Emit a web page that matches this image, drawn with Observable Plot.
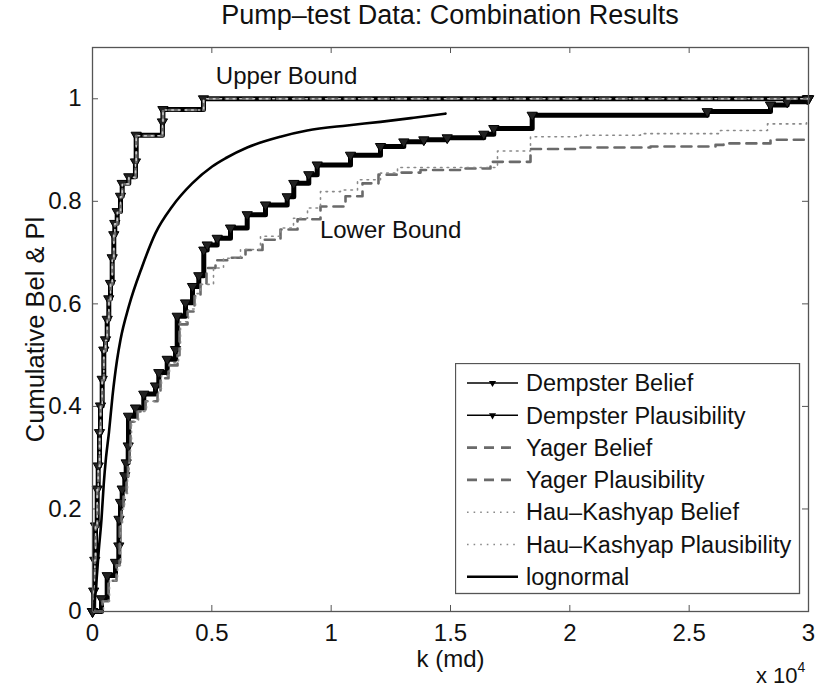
<!DOCTYPE html>
<html>
<head>
<meta charset="utf-8">
<script src="https://cdn.jsdelivr.net/npm/d3@7"></script>
<script src="https://cdn.jsdelivr.net/npm/@observablehq/plot@0.6"></script>
<style>
  body { margin: 0; background: #fff; font-family: "Liberation Sans", Arial, Helvetica, sans-serif; }
  #wrap { position: relative; width: 817px; height: 687px; overflow: hidden; }
  #title { position: absolute; left: 92px; width: 716px; top: 0px; text-align: center; font-size: 27px; color: #111; line-height: 30px; }
  #chart { position: absolute; left: 0; top: 30px; }
  #exp { position: absolute; left: 756px; top: 662px; font-size: 22px; color: #111; }
  #exp sup { font-size: 14px; position: relative; top: -3px; }
  #legend { position: absolute; left: 455px; top: 363px; }
</style>
</head>
<body>
<div id="wrap">
  <div id="title"></div>
  <div id="chart"></div>
  <div id="exp">x 10<sup>4</sup></div>
  <div id="legend"></div>
</div>
<script>
// ---------- data (k in md, cumulative probability) ----------
const titleText = "Pump\u2013test Data: Combination Results";
const xLabel = "k (md)";
const yLabel = "Cumulative Bel & Pl";

const xTicks = [0, 5000, 10000, 15000, 20000, 25000, 30000];
const yTicks = [0, 0.2, 0.4, 0.6, 0.8, 1];

const kDempsterBel = [0,377,616,964,1102,1110,1173,1244,1353,1412,1496,1508,1802,2149,2640,2778,3130,3478,3549,3897,4190,4454,4663,4806,5225,5782,6482,7249,8158,8434,9063,9415,10810,12067,13044,13882,14862,16395,16814,18423,25756,28408,29108,29947,30000];
const pDempsterBel = [0,0.025,0.07,0.096,0.128,0.18,0.213,0.239,0.265,0.29,0.323,0.381,0.397,0.424,0.44,0.466,0.492,0.511,0.576,0.602,0.634,0.655,0.705,0.715,0.728,0.748,0.774,0.793,0.809,0.835,0.852,0.871,0.890,0.907,0.916,0.920,0.924,0.931,0.942,0.968,0.975,0.988,0.994,1.0,1.0];

const kDempsterPl = [0,50,96,126,197,239,293,335,406,473,545,616,683,754,825,892,934,1035,1173,1244,1521,1800,1830,2930,2950,4650,30000];
const pDempsterPl = [0,0.04,0.10,0.167,0.239,0.284,0.349,0.401,0.453,0.51,0.53,0.57,0.61,0.64,0.69,0.735,0.757,0.78,0.81,0.835,0.848,0.877,0.929,0.955,0.979,1.0,1.0];

const kYagerBel = [0,419,670,1006,1131,1140,1215,1299,1425,1487,1550,1592,1886,2221,2724,2849,3184,3562,3645,3981,4274,4525,4777,5154,5782,6411,7123,7877,8590,9553,10601,11313,11983,12905,13743,15545,16676,18352,20447,23380,26104,26439,28408,30000];
const pYagerBel = [0,0.02,0.06,0.09,0.12,0.17,0.2,0.23,0.26,0.29,0.32,0.37,0.39,0.41,0.43,0.455,0.48,0.50,0.56,0.585,0.615,0.64,0.67,0.685,0.69,0.705,0.725,0.745,0.765,0.79,0.81,0.835,0.852,0.856,0.861,0.864,0.877,0.902,0.905,0.907,0.910,0.913,0.92,0.92];

const kYagerPl = [0,60,100,130,200,245,298,340,410,478,550,620,688,760,830,896,940,1040,1178,1250,1526,1805,1835,2935,2955,4660,30000];
const pYagerPl = [0,0.04,0.10,0.165,0.237,0.282,0.347,0.40,0.451,0.508,0.528,0.568,0.607,0.638,0.688,0.733,0.755,0.778,0.808,0.833,0.846,0.875,0.928,0.954,0.978,1.0,1.0];

const kHKBel = [0,461,712,1048,1173,1182,1257,1341,1467,1529,1592,1634,1927,2263,2765,2891,3226,3603,3687,4022,4316,4525,5070,5489,6201,7039,7877,8422,9009,9553,10391,11104,12067,12780,16969,18352,20447,22960,26313,28282,29916,30000];
const pHKBel = [0,0.02,0.06,0.09,0.12,0.17,0.2,0.23,0.26,0.29,0.32,0.37,0.39,0.41,0.435,0.46,0.485,0.505,0.565,0.59,0.62,0.638,0.67,0.689,0.706,0.732,0.748,0.767,0.787,0.819,0.822,0.842,0.855,0.866,0.898,0.926,0.929,0.932,0.938,0.951,0.955,0.955];

const kHKPl = [0,55,98,128,199,242,296,338,408,476,548,618,686,757,828,894,937,1038,1176,1247,1524,1803,1833,2933,2953,4655,30000];
const pHKPl = [0,0.04,0.10,0.166,0.238,0.283,0.348,0.40,0.452,0.509,0.529,0.569,0.608,0.639,0.689,0.734,0.756,0.779,0.809,0.834,0.847,0.876,0.928,0.954,0.978,1.0,1.0];

const kLognormal = [0,63,168,264,377,473,566,691,838,1027,1173,1521,2082,2640,3339,4177,5015,5573,6482,7877,8996,10672,12067,13463,14791];
const pLognormal = [0,0.01,0.06,0.12,0.18,0.25,0.30,0.35,0.42,0.49,0.53,0.595,0.673,0.738,0.79,0.835,0.868,0.884,0.905,0.926,0.938,0.948,0.955,0.963,0.971];

const annotations = [
  {text: "Upper Bound", k: 8130, p: 1.043},
  {text: "Lower Bound", k: 12490, p: 0.743}
];

const legendLabels = ["Dempster Belief", "Dempster Plausibility", "Yager Belief", "Yager Plausibility",
  "Hau\u2013Kashyap Belief", "Hau\u2013Kashyap Plausibility", "lognormal"];

// ---------- build rows ----------
const rows = (ks, ps) => ks.map((k, i) => ({k, p: ps[i]}));
const dBel = rows(kDempsterBel, pDempsterBel);
const dPl = rows(kDempsterPl, pDempsterPl);
const yBel = rows(kYagerBel, pYagerBel);
const yPl = rows(kYagerPl, pYagerPl);
const hBel = rows(kHKBel, pHKBel);
const hPl = rows(kHKPl, pHKPl);
const logn = rows(kLognormal, pLognormal);

const FONT = '"Liberation Sans", Arial, Helvetica, sans-serif';
const axisColor = "#555";
const yagerStyle = {stroke: "#6a6a6a", strokeWidth: 2.6, strokeDasharray: "10,7"};
const hkStyle = {stroke: "#8a8a8a", strokeWidth: 1.6, strokeDasharray: "1.6,5"};

const tickLenY = 6 / 512.7;      // inward tick length in y units
const tickLenX = 6 * 30000 / 716; // inward tick length in x units

document.getElementById("title").textContent = titleText;

const chart = Plot.plot({
  width: 817,
  height: 657,
  marginLeft: 92,
  marginRight: 9,
  marginTop: 17,
  marginBottom: 76,
  style: {fontFamily: FONT, fontSize: "24px", color: "#111", background: "transparent"},
  x: {domain: [0, 30000]},
  y: {domain: [0, 1.1]},
  marks: [
    // tick labels
    Plot.axisX({ticks: xTicks, tickSize: 0, tickPadding: 12, tickFormat: d => d / 10000, label: null, fontSize: 24}),
    Plot.axisY({ticks: yTicks, tickSize: 0, tickPadding: 11, tickFormat: d => d, label: null, fontSize: 24}),
    // inward ticks on all four sides
    Plot.ruleX(xTicks, {x: d => d, y1: 0, y2: tickLenY, stroke: axisColor}),
    Plot.ruleX(xTicks, {x: d => d, y1: 1.1 - tickLenY, y2: 1.1, stroke: axisColor}),
    Plot.ruleY(yTicks, {y: d => d, x1: 0, x2: tickLenX, stroke: axisColor}),
    Plot.ruleY(yTicks, {y: d => d, x1: 30000 - tickLenX, x2: 30000, stroke: axisColor}),
    // series
    Plot.line(dBel, {x: "k", y: "p", curve: "step-after", stroke: "#000", strokeWidth: 5}),
    Plot.line(dPl, {x: "k", y: "p", curve: "step-after", stroke: "#000", strokeWidth: 5}),
    Plot.dot(dBel, {x: "k", y: "p", symbol: "triangle", rotate: 180, r: 3.8, fill: "#222", stroke: "#000", strokeWidth: 1}),
    Plot.dot(dPl, {x: "k", y: "p", symbol: "triangle", rotate: 180, r: 3.8, fill: "#222", stroke: "#000", strokeWidth: 1}),
    Plot.line(yBel, {x: "k", y: "p", curve: "step-after", ...yagerStyle}),
    Plot.line(yPl, {x: "k", y: "p", curve: "step-after", ...yagerStyle}),
    Plot.line(hBel, {x: "k", y: "p", curve: "step-after", ...hkStyle}),
    Plot.line(hPl, {x: "k", y: "p", curve: "step-after", ...hkStyle, stroke: "#c8c8c8"}),
    Plot.line(logn, {x: "k", y: "p", curve: "monotone-x", stroke: "#000", strokeWidth: 2.6}),
    // annotations
    Plot.text(annotations, {x: "k", y: "p", text: "text", fontSize: 24, fill: "#111"}),
    // axis titles
    Plot.text([xLabel], {frameAnchor: "bottom", dy: 55, fontSize: 24, fill: "#111"}),
    Plot.text([yLabel], {frameAnchor: "left", textAnchor: "middle", lineAnchor: "middle", dx: -57, rotate: -90, fontSize: 25.5, fill: "#111"}),
    // box
    Plot.frame({stroke: axisColor, strokeWidth: 1.3})
  ]
});
document.getElementById("chart").appendChild(chart);

// ---------- legend ----------
const legendStyles = [
  {stroke: "#000", width: 1.4, dash: null, marker: true},
  {stroke: "#000", width: 1.4, dash: null, marker: true},
  {stroke: yagerStyle.stroke, width: yagerStyle.strokeWidth, dash: yagerStyle.strokeDasharray},
  {stroke: yagerStyle.stroke, width: yagerStyle.strokeWidth, dash: yagerStyle.strokeDasharray},
  {stroke: hkStyle.stroke, width: hkStyle.strokeWidth, dash: hkStyle.strokeDasharray},
  {stroke: hkStyle.stroke, width: hkStyle.strokeWidth, dash: hkStyle.strokeDasharray},
  {stroke: "#000", width: 2.6, dash: null}
];
const LW = 344, LH = 230, rowH = 32.3, row0 = 20;
const lsvg = d3.select("#legend").append("svg").attr("width", LW + 2).attr("height", LH + 2);
lsvg.append("rect").attr("x", 0.5).attr("y", 0.5).attr("width", LW).attr("height", LH)
  .attr("fill", "#fff").attr("stroke", axisColor).attr("stroke-width", 1.3);
legendLabels.forEach((label, i) => {
  const cy = row0 + i * rowH;
  const s = legendStyles[i];
  const g = lsvg.append("g");
  g.append("line").attr("x1", 12).attr("x2", 63).attr("y1", cy).attr("y2", cy)
    .attr("stroke", s.stroke).attr("stroke-width", s.width)
    .attr("stroke-dasharray", s.dash);
  if (s.marker) {
    g.append("path").attr("d", d3.symbol(d3.symbolTriangle, 22)())
      .attr("transform", `translate(37.5,${cy}) rotate(180)`).attr("fill", "#000");
  }
  g.append("text").attr("x", 71).attr("y", cy).attr("dy", "0.35em")
    .attr("font-family", FONT).attr("font-size", 23.5).attr("fill", "#111").text(label);
});
</script>
</body>
</html>
